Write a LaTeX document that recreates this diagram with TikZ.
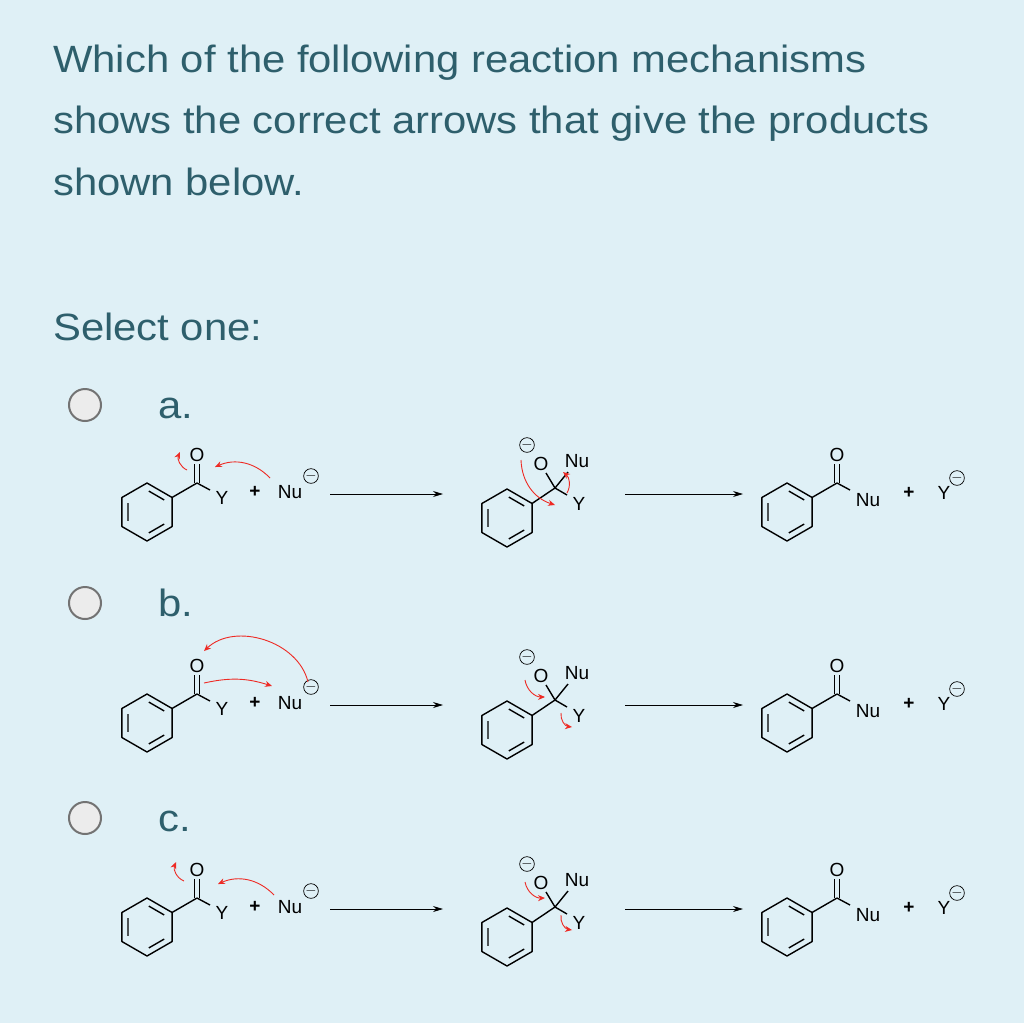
\documentclass[tikz,border=0pt]{standalone}
\usepackage{fontspec}
\setmainfont{Liberation Sans}
\newfontfamily\chem{Liberation Sans}
\newfontfamily\wide[FakeStretch=1.1]{Liberation Sans}
\usetikzlibrary{arrows.meta}
\definecolor{bg}{HTML}{DFF0F6}
\definecolor{txt}{HTML}{2E5F6C}
\definecolor{rd}{HTML}{EE2A24}
\tikzset{
 bond/.style={line width=1.4pt,line join=round},
 lab/.style={font=\chem\fontsize{19}{19}\selectfont,inner sep=0.5pt},
 chg/.style={circle,draw,line width=0.7pt,inner sep=0pt,minimum size=13pt,font=\fontsize{15}{15}\selectfont},
 rarr/.style={rd,line width=0.9pt,-{Stealth[length=7pt,width=6pt]}},
 rxn/.style={line width=0.8pt,-{Stealth[length=10pt,width=6pt]}},
 radio/.style={circle,draw=gray!90!black,fill=gray!15,line width=2pt,minimum size=32pt,inner sep=0pt},
 q/.style={font=\wide\fontsize{38}{38}\selectfont,text=txt,anchor=base west,inner sep=0pt},
 ring/.pic={
  \draw[bond] (90:29)--(30:29)--(-30:29)--(-90:29)--(-150:29)--(150:29)--cycle;
  \draw[bond] (155:21)--(-155:21) (85:21)--(35:21) (-35:21)--(-85:21);
 }
}
\newcommand{\carbonyl}[1]{%
  \draw[bond] (25,-14.5)--(50,-29);
  \draw[bond] (47.5,-29)--(47.5,-48) (52.5,-29)--(52.5,-48);
  \node[lab] (o#1) at (50,-57) {O};
  \draw[bond] (50,-29)--(63,-22);}
\begin{document}
\begin{tikzpicture}[x=1pt,y=-1pt]
\fill[bg] (0,0) rectangle (1024,1023);
\node[q] (l1) at (53,72) {Which of the following reaction mechanisms};
\node[q] (l2) at (53,133) {shows the correct arrows that give the products};
\node[q] (l3) at (53,195) {shown below.};
\node[q] (sel) at (53,340) {Select one:};
\foreach \n/\yy/\t in {ra/405/a., rb/603/b., rc/818/c.}{
  \node[radio] (\n) at (85,\yy) {};
  \node[q] at (158,\yy+13) {\t};
}
\foreach \r/\ya/\yb in {A/512/518, B/723/730, C/927/937}{
 \begin{scope}[shift={(147,\ya)}]
  \pic {ring}; \carbonyl{\r}
  \node[lab] (y\r) at (75,-14) {Y};
  \node[lab] (pl\r) at (108,-20) {\bfseries +};
  \node[lab] (nu\r) at (143,-20) {Nu};
  \node[chg] (ch\r) at (164,-36) {$-$};
 \end{scope}
 \coordinate (s1\r) at (330,\ya-18); \coordinate (e1\r) at (443,\ya-18);
 \draw[rxn] (s1\r)--(e1\r);
 \begin{scope}[shift={(507,\yb)}]
  \pic {ring};
  \draw[bond] (25,-14.5)--(48,-30);
  \draw[bond] (48,-30)--(39,-45) (48,-30)--(61,-46) (48,-30)--(60,-23);
  \node[lab] (io\r) at (34,-54) {O};
  \node[lab] (inu\r) at (70,-57) {Nu};
  \node[lab] (iy\r) at (72,-14) {Y};
  \node[chg] (ich\r) at (20,-73) {$-$};
 \end{scope}
 \coordinate (s2\r) at (625,\ya-18); \coordinate (e2\r) at (743,\ya-18);
 \draw[rxn] (s2\r)--(e2\r);
 \begin{scope}[shift={(787,\ya)}]
  \pic {ring}; \carbonyl{P\r}
  \node[lab] (pnu\r) at (81,-12) {Nu};
  \node[lab] (ppl\r) at (122,-19) {\bfseries +};
  \node[lab] (py\r) at (157,-19) {Y};
  \node[chg] (pch\r) at (170,-34) {$-$};
 \end{scope}
}
% row a
\draw[rarr] (270,478) to[bend right=35] (215,467);
\draw[rarr] (187,470) to[bend left=45] (180,452);
\draw[rarr] (521,460) to[bend right=35] (555,505);
\draw[rarr] (567,493) to[bend right=40] (563,472);
% row b
\draw[rarr] (308,682) to[bend right=60] (204,651);
\draw[rarr] (204,683) to[bend left=15] (272,686);
\draw[rarr] (525,680) to[bend right=40] (545,697);
\draw[rarr] (561,713) to[bend right=45] (572,727);
% row c
\draw[rarr] (274,895) to[bend right=35] (218,884);
\draw[rarr] (184,881) to[bend left=45] (176,862);
\draw[rarr] (525,882) to[bend right=40] (545,898);
\draw[rarr] (561,915) to[bend right=45] (572,930);
\end{tikzpicture}
\end{document}
